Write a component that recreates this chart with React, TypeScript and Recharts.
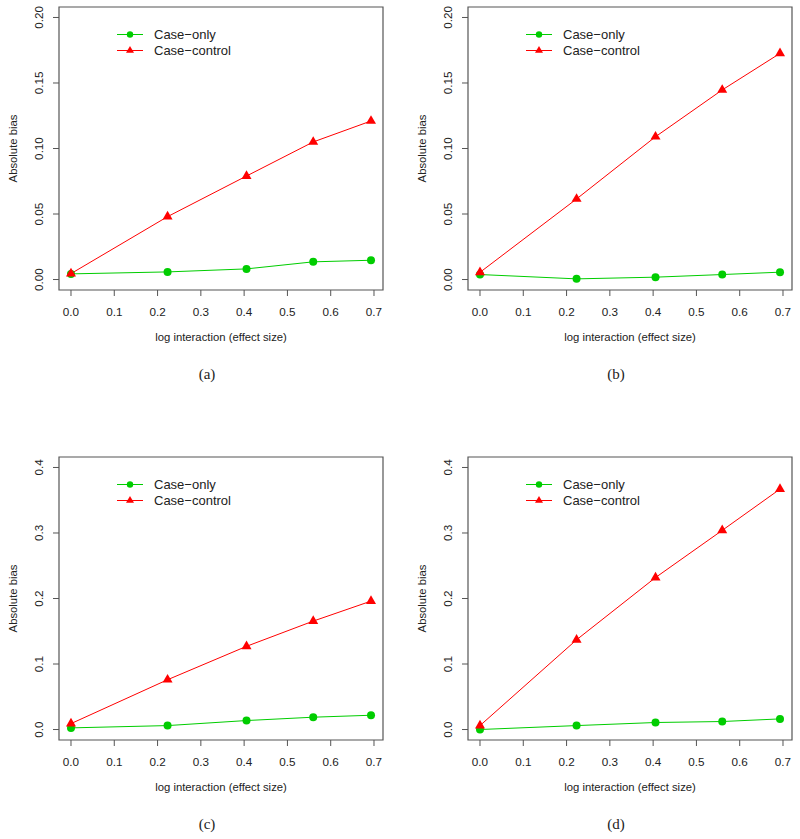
import { LineChart, Line, XAxis, YAxis, ReferenceArea, Legend, Label } from "recharts"

// log interaction values: log(1), log(1.25), log(1.5), log(1.75), log(2)
const effect = [0, 0.2231, 0.4055, 0.5596, 0.6931]
const xTicks = [0, 0.1, 0.2, 0.3, 0.4, 0.5, 0.6, 0.7]

const onlyA = [0.0043, 0.0058, 0.0081, 0.0135, 0.0147]
const ctrlA = [0.0045, 0.048, 0.079, 0.105, 0.121]
const onlyB = [0.0038, 0.0005, 0.0018, 0.0038, 0.0056]
const ctrlB = [0.0055, 0.0615, 0.109, 0.1447, 0.1726]
const onlyC = [0.0025, 0.006, 0.0137, 0.0188, 0.0218]
const ctrlC = [0.009, 0.076, 0.127, 0.1655, 0.196]
const onlyD = [0.0, 0.006, 0.0107, 0.0122, 0.0162]
const ctrlD = [0.006, 0.137, 0.232, 0.304, 0.367]

const yTicksTop = [0, 0.05, 0.1, 0.15, 0.2]
const yTicksBottom = [0, 0.1, 0.2, 0.3, 0.4]
const seriesNames = ["Case\u2212only", "Case\u2212control"]
const captions = ["(a)", "(b)", "(c)", "(d)"]

const GREEN = "#00cd00"
const RED = "#ff0000"
const FRAME = "#555555"
const INK = "#222222"
const SANS = '"Liberation Sans", Arial, Helvetica, sans-serif'
const SERIF = '"Liberation Serif", "DejaVu Serif", serif'
const X_DOM: [number, number] = [-0.0277, 0.7208]

function tri(cx: number, cy: number, hw: number) {
  // R pch 17: apex at +r, base at -r/2, centroid on the point
  const r = hw / (Math.sqrt(3) / 2)
  return `${cx},${cy - r} ${cx + hw},${cy + r / 2} ${cx - hw},${cy + r / 2}`
}

function LegendBox() {
  return (
    <svg width={200} height={40} style={{ display: "block", overflow: "visible" }}>
      <line x1={8} x2={34} y1={12.5} y2={12.5} stroke={GREEN} />
      <circle cx={21} cy={12.5} r={3.2} fill={GREEN} />
      <text x={45} y={12.5} dy="0.36em" fontFamily={SANS} fontSize={13} fill={INK}>{seriesNames[0]}</text>
      <line x1={8} x2={34} y1={28.5} y2={28.5} stroke={RED} />
      <polygon points={tri(21, 28.5, 4)} fill={RED} />
      <text x={45} y={28.5} dy="0.36em" fontFamily={SANS} fontSize={13} fill={INK}>{seriesNames[1]}</text>
    </svg>
  )
}

type PanelProps = {
  left: number; top: number; only: number[]; ctrl: number[]
  yTicks: number[]; digits: number; caption: string
}

function Panel({ left, top, only, ctrl, yTicks, digits, caption }: PanelProps) {
  const yMax = yTicks[yTicks.length - 1]
  const yDom: [number, number] = [-0.04 * yMax, 1.04 * yMax]
  const rows = effect.map((x, i) => ({ x, only: only[i], ctrl: ctrl[i] }))

  return (
    <div style={{ position: "absolute", left, top }}>
      <LineChart width={408} height={410} data={rows} margin={{ top: 7, right: 25, bottom: 90, left: 19 }}>
        <XAxis
          dataKey="x" type="number" domain={X_DOM} ticks={xTicks} allowDataOverflow interval={0}
          height={30} axisLine={false} tickSize={6} tickMargin={0} tickLine={{ stroke: FRAME }}
          tick={(p: any) => (
            <text x={p.x} y={p.y + 20} textAnchor="middle" fontFamily={SANS} fontSize={11.7} fill={INK}>
              {Number(p.payload.value).toFixed(1)}
            </text>
          )}
        >
          <Label content={() => (
            <g>
              <text x={221} y={341} textAnchor="middle" fontFamily={SANS} fontSize={11.3} fill={INK}>
                log interaction (effect size)
              </text>
              <text x={207} y={379} textAnchor="middle" fontFamily={SERIF} fontSize={15} fill={INK}>
                {caption}
              </text>
            </g>
          )} />
        </XAxis>
        <YAxis
          type="number" domain={yDom} ticks={yTicks} allowDataOverflow interval={0}
          width={40} axisLine={false} tickSize={6} tickMargin={0} tickLine={{ stroke: FRAME }}
          tick={(p: any) => (
            <text x={p.x - 10} y={p.y} transform={`rotate(-90 ${p.x - 10} ${p.y})`} textAnchor="middle"
              fontFamily={SANS} fontSize={11.7} fill={INK}>
              {Number(p.payload.value).toFixed(digits)}
            </text>
          )}
        >
          <Label content={() => (
            <text x={16.5} y={148.5} transform="rotate(-90 16.5 148.5)" textAnchor="middle"
              fontFamily={SANS} fontSize={11.3} fill={INK}>
              Absolute bias
            </text>
          )} />
        </YAxis>
        <ReferenceArea x1={X_DOM[0]} x2={X_DOM[1]} y1={yDom[0]} y2={yDom[1]} fill="none" stroke={FRAME} strokeWidth={1.2} />
        <Line
          dataKey="only" name={seriesNames[0]} stroke={GREEN} strokeWidth={1} isAnimationActive={false} activeDot={false}
          dot={(p: any) => <circle key={`o${p.index}`} cx={p.cx} cy={p.cy} r={4} fill={GREEN} />}
        />
        <Line
          dataKey="ctrl" name={seriesNames[1]} stroke={RED} strokeWidth={1} isAnimationActive={false} activeDot={false}
          dot={(p: any) => <polygon key={`c${p.index}`} points={tri(p.cx, p.cy, 5)} fill={RED} />}
        />
        <Legend layout="vertical" align="center" verticalAlign="middle"
          wrapperStyle={{ left: 109, top: 22, width: 200, height: 40 }} content={() => <LegendBox />} />
      </LineChart>
    </div>
  )
}

export default function App() {
  return (
    <div style={{ position: "absolute", left: 0, top: 0, width: 800, height: 839, background: "#fff" }}>
      <Panel left={0} top={0} only={onlyA} ctrl={ctrlA} yTicks={yTicksTop} digits={2} caption={captions[0]} />
      <Panel left={408.7} top={0} only={onlyB} ctrl={ctrlB} yTicks={yTicksTop} digits={2} caption={captions[1]} />
      <Panel left={0} top={450.3} only={onlyC} ctrl={ctrlC} yTicks={yTicksBottom} digits={1} caption={captions[2]} />
      <Panel left={408.7} top={450.3} only={onlyD} ctrl={ctrlD} yTicks={yTicksBottom} digits={1} caption={captions[3]} />
    </div>
  )
}
